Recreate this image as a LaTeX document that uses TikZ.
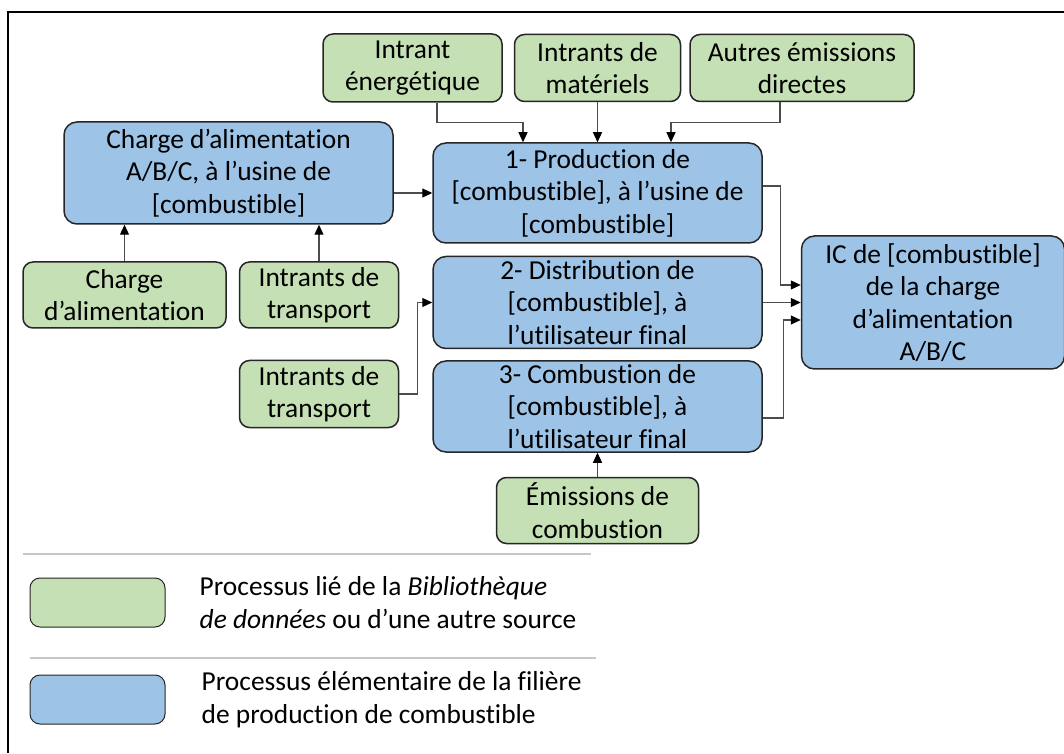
\documentclass[tikz,border=0pt]{standalone}
\usepackage{fontspec}
\setmainfont{Carlito}[Ligatures=NoCommon]
\usetikzlibrary{arrows.meta,positioning}
\definecolor{greenfill}{HTML}{C5E0B4}
\definecolor{bluefill}{HTML}{9DC3E6}

\begin{document}
\begin{tikzpicture}[
        x=1pt, y=1pt,
        font=\fontsize{27.4pt}{32.5pt}\selectfont,
        greenbox/.style={rectangle,draw=black!85,line width=1.5pt,rounded corners=10pt,fill=greenfill,align=center,inner sep=0pt},
        bluebox/.style={rectangle,draw=black!85,line width=1.5pt,rounded corners=13pt,fill=bluefill,align=center,inner sep=0pt},
        arrow/.style={-{Triangle[length=10pt,width=9pt,color=black]},line width=1.2pt,draw=black!70},
        sepline/.style={line width=2pt,draw=black!22}
    ]
        \useasboundingbox (0,0) rectangle (1064,753);
        \draw[line width=2pt] (8,0) -- (8,741) -- (1064,741);

        \node[bluebox,minimum width=329pt,minimum height=100pt] (prod) at (597.5,560) {1- Production de\\{[combustible]}, à l’usine de\\{[combustible]}};
        \node[bluebox,minimum width=329pt,minimum height=92pt,below=12pt of prod] (dist) {2- Distribution de\\{[combustible]}, à\\l’utilisateur final};
        \node[bluebox,minimum width=329pt,minimum height=91pt,below=11pt of dist] (comb) {3- Combustion de\\{[combustible]}, à\\l’utilisateur final};
        \node[greenbox,minimum width=202pt,minimum height=66pt,below=24pt of comb] (emis) {Émissions de\\combustion};
        \node[bluebox,minimum width=263pt,minimum height=133pt,right=38pt of dist] (ic) {IC de [combustible]\\de la charge\\d’alimentation\\A/B/C};
        \node[greenbox,minimum width=166pt,minimum height=67pt,above=40pt of prod] (materiel) {Intrants de\\matériels};
        \node[greenbox,minimum width=179pt,minimum height=68pt,left=11pt of materiel] (energie) {Intrant\\énergétique};
        \node[greenbox,minimum width=224pt,minimum height=67pt,right=8pt of materiel] (autres) {Autres émissions\\directes};
        \node[bluebox,minimum width=329pt,minimum height=102pt] (chargeabc) at (228.5,580) {Charge d’alimentation\\A/B/C, à l’usine de\\{[combustible]}};
        \node[greenbox,minimum width=203pt,minimum height=66pt] (chargealim) at (124.5,458) {Charge\\d’alimentation};
        \node[greenbox,minimum width=159pt,minimum height=66pt,right=12pt of chargealim] (transA) {Intrants de\\transport};
        \node[greenbox,minimum width=159pt,minimum height=67pt,below=31pt of transA] (transB) {Intrants de\\transport};

        \draw[arrow] ([xshift=24.5pt]energie.south) -- ++(0,-20) -| ([xshift=-74.5pt]prod.north);
        \draw[arrow] (materiel.south) -- (materiel.south |- prod.north);
        \draw[arrow] ([xshift=-22pt]autres.south) -- ++(0,-20) -| ([xshift=73.5pt]prod.north);
        \draw[arrow] (chargeabc.east |- prod) -- (prod.west);
        \draw[arrow] (chargealim.north) -- (chargealim.north |- chargeabc.south);
        \draw[arrow] (transA.north) -- (transA.north |- chargeabc.south);
        \draw[arrow] (transB.east) -- ++(18,0) |- (dist.west);
        \draw[arrow] ([yshift=7pt]prod.east) -- ++(18,0) |- ([yshift=17.5pt]ic.west);
        \draw[arrow] (dist.east) -- (dist.east -| ic.west);
        \draw[arrow] ([yshift=-11.5pt]comb.east) -- ++(21,0) |- ([yshift=-17.5pt]ic.west);
        \draw[arrow] (emis.north) -- (emis.north |- comb.south);

        % legende
        \draw[sepline] (23,199) -- (591,199);
        \draw[sepline] (30,95) -- (596,95);
        \node[greenbox,line width=1pt,minimum width=135pt,minimum height=49pt] (leggreen) at (97.5,150.5) {};
        \node[right=34pt of leggreen,align=left,inner sep=0pt] (legtextA) {Processus lié de la \textit{Bibliothèque}\\\textit{de données} ou d’une autre source};
        \node[bluebox,line width=1pt,rounded corners=10pt,minimum width=135pt,minimum height=49pt] (legblue) at (97.5,53.5) {};
        \node[right=36pt of legblue,align=left,inner sep=0pt] (legtextB) {Processus élémentaire de la filière\\de production de combustible};
    \end{tikzpicture}
\end{document}
